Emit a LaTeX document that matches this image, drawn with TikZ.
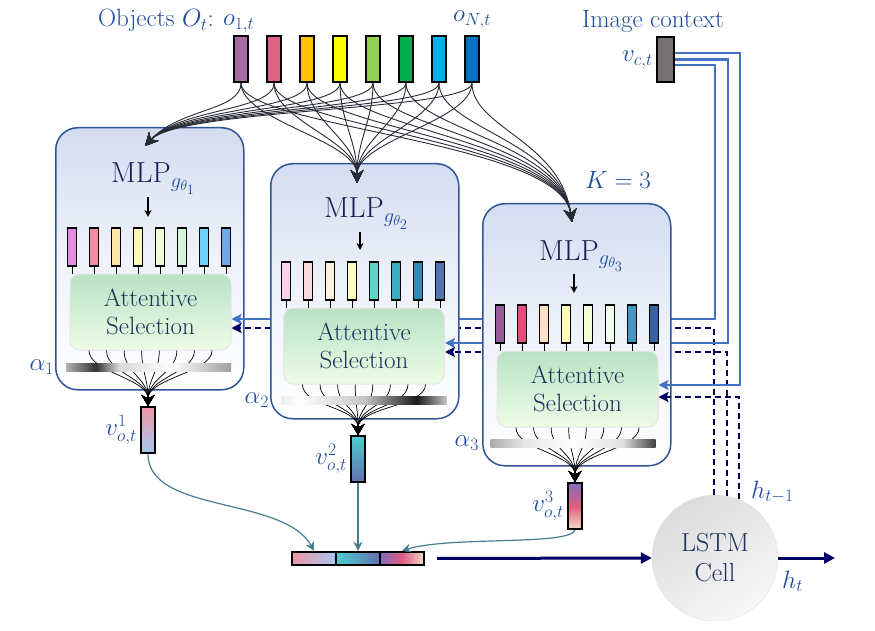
\documentclass[tikz,border=0pt]{standalone}
\usepackage{fix-cm}
\usetikzlibrary{arrows.meta,calc,positioning}

\definecolor{labblue}{RGB}{30,76,158}
\definecolor{mlptext}{RGB}{22,32,84}
\definecolor{atttext}{RGB}{28,48,92}
\definecolor{panline}{RGB}{47,85,151}
\definecolor{pantop}{RGB}{212,221,240}
\definecolor{panmid}{RGB}{238,242,250}
\definecolor{atttop}{RGB}{184,226,196}
\definecolor{attbot}{RGB}{238,252,230}
\definecolor{ctxblue}{RGB}{68,114,196}
\definecolor{hidnavy}{RGB}{0,0,100}
\definecolor{tealc}{RGB}{70,125,145}
\definecolor{curvec}{RGB}{40,42,52}
\definecolor{vcgray}{RGB}{118,113,113}
\definecolor{obj1}{RGB}{168,106,164}
\definecolor{obj2}{RGB}{224,98,130}
\definecolor{obj3}{RGB}{255,192,0}
\definecolor{obj4}{RGB}{255,255,0}
\definecolor{obj5}{RGB}{146,208,80}
\definecolor{obj6}{RGB}{0,176,80}
\definecolor{obj7}{RGB}{0,176,240}
\definecolor{obj8}{RGB}{0,112,192}
\definecolor{pA1}{RGB}{228,140,228}
\definecolor{pA2}{RGB}{244,140,168}
\definecolor{pA3}{RGB}{255,228,170}
\definecolor{pA4}{RGB}{250,250,180}
\definecolor{pA5}{RGB}{240,252,210}
\definecolor{pA6}{RGB}{210,245,220}
\definecolor{pA7}{RGB}{110,210,250}
\definecolor{pA8}{RGB}{110,170,235}
\definecolor{pB1}{RGB}{250,210,240}
\definecolor{pB2}{RGB}{252,215,220}
\definecolor{pB3}{RGB}{255,240,220}
\definecolor{pB4}{RGB}{255,255,190}
\definecolor{pB5}{RGB}{90,215,200}
\definecolor{pB6}{RGB}{60,175,195}
\definecolor{pB7}{RGB}{45,140,185}
\definecolor{pB8}{RGB}{85,115,175}
\definecolor{pC1}{RGB}{150,90,155}
\definecolor{pC2}{RGB}{225,80,125}
\definecolor{pC3}{RGB}{255,225,195}
\definecolor{pC4}{RGB}{255,255,185}
\definecolor{pC5}{RGB}{240,255,215}
\definecolor{pC6}{RGB}{240,255,235}
\definecolor{pC7}{RGB}{65,150,195}
\definecolor{pC8}{RGB}{55,100,160}
\definecolor{vpink}{RGB}{240,150,165}
\definecolor{vsky}{RGB}{165,200,240}
\definecolor{vturq}{RGB}{75,205,205}
\definecolor{vslate}{RGB}{100,112,175}
\definecolor{vpurp}{RGB}{128,110,185}
\definecolor{vrose}{RGB}{222,92,130}
\definecolor{vcream}{RGB}{240,218,195}

\pgfdeclarehorizontalshading{alphaA}{100bp}{color(0bp)=(gray!60); color(25bp)=(gray!60); color(34bp)=(black!80); color(41bp)=(gray!30); color(57bp)=(white); color(75bp)=(gray!75); color(100bp)=(gray!75)}
\pgfdeclarehorizontalshading{alphaB}{100bp}{color(0bp)=(gray!15); color(25bp)=(gray!15); color(30bp)=(white); color(50bp)=(gray!45); color(66bp)=(black!90); color(75bp)=(gray!45); color(100bp)=(gray!45)}
\pgfdeclarehorizontalshading{alphaC}{100bp}{color(0bp)=(gray!65); color(25bp)=(gray!65); color(35bp)=(gray!20); color(50bp)=(white); color(65bp)=(gray!25); color(75bp)=(black!75); color(100bp)=(black!75)}

\tikzset{
  lab/.style={text=labblue, font=\fontsize{25}{29}\selectfont, inner sep=1pt},
  objbar/.style={draw=black, line width=2pt, minimum width=14pt, minimum height=46pt, inner sep=0pt},
  featbar/.style={draw=black, line width=1.6pt, minimum width=9pt, minimum height=38pt, inner sep=0pt},
  vecbar/.style={draw=black, line width=2pt, minimum width=14pt, minimum height=46pt, inner sep=0pt},
  catbar/.style={draw=black, line width=2.4pt, minimum width=44pt, minimum height=13pt, inner sep=0pt},
  panel/.style={draw=panline, line width=1.5pt, rounded corners=22pt, top color=pantop, bottom color=white, middle color=panmid, minimum width=188pt, anchor=north west, inner sep=0pt},
  attbox/.style={draw=gray!20, line width=1pt, rounded corners=10pt, top color=atttop, bottom color=attbot, minimum width=161pt, minimum height=76pt, align=center, text=atttext, font=\fontsize{25}{28}\selectfont},
  mlptxt/.style={anchor=base west, text=mlptext, font=\fontsize{29}{32}\selectfont, inner sep=2pt},
  lstmcell/.style={circle, draw=gray!25, minimum size=126pt, inner sep=0pt, top color=gray!28, bottom color=gray!6, shading angle=35, align=center, text=atttext, font=\fontsize{26}{30}\selectfont},
  abar/.style={shade, minimum width=165pt, minimum height=8pt, inner sep=0pt},
  down/.style={-{Stealth[length=7pt,width=7pt]}, line width=1.3pt},
  fan/.style={line width=0.7pt, -{Stealth[length=11pt,width=13pt]}},
  feed/.style={curvec, line width=0.9pt, -{Stealth[length=13pt,width=13pt]}},
  ctx/.style={ctxblue, line width=2.4pt, -{Stealth[length=10pt,width=10pt,inset=2pt]}},
  hid/.style={hidnavy, line width=2.4pt, dash pattern=on 6pt off 4pt, -{Stealth[length=10pt,width=10pt,inset=2pt]}},
  merge/.style={tealc, line width=1.2pt, -{Stealth[length=9pt,width=9pt]}},
  flow/.style={hidnavy, line width=3pt, -{Triangle[length=11pt,width=11pt]}},
}

\begin{document}
\begin{tikzpicture}[x=1pt,y=-1pt]
  \useasboundingbox (0,0) rectangle (875,631);

  \node[lstmcell] (lstm) at (715,558) {LSTM\\Cell};
  \node[lab, anchor=base west] (hprev) at (750,498) {$h_{t-1}$};
  \node[lab, anchor=base west] (hcur) at (781,588) {$h_t$};

  \node[lab, anchor=base east] (objl) at (215,27) {Objects $O_t$:};
  \node[lab, anchor=base west] (o1l) at (222,26) {$o_{1,t}$};
  \node[lab, anchor=base west] (oNl) at (452,22) {$o_{N,t}$};
  \foreach \i in {1,...,8}
    \node[objbar, fill=obj\i] (o\i) at ({241+33*(\i-1)},59) {};

  \node[lab, anchor=base] (imgl) at (653,28) {Image context};
  \node[objbar, fill=vcgray, minimum width=17pt, minimum height=45pt] (vc) at (665.5,59.5) {};
  \node[lab, left=2pt of vc] (vcl) {$v_{c,t}$};
  \node[lab] (kval) at (618,180) {$K=3$};

  \node[catbar, left color=vpink, right color=vsky] (cat1) at (314,558.5) {};
  \node[catbar, left color=vturq, right color=vslate] (cat2) at (358,558.5) {};
  \node[catbar, left color=vpurp, right color=vcream, middle color=vrose] (cat3) at (402,558.5) {};

  \begin{scope}[shift={(55,127)}]
    \node[panel, minimum height=262pt] (pan1) at (0,0) {};
    \node[mlptxt] (mlp1) at (54,56) {MLP$_{\color{labblue}g_{\theta_1}}$};
    \foreach \i in {1,...,8}
      \node[featbar, fill=pA\i] (fa\i) at ({17+22*(\i-1)},120) {};
    \coordinate (in1) at (93,90);
    \draw[down] (mlp1.south -| in1) -- (in1);
    \node[attbox] (att1) at (95.5,185) {Attentive\\Selection};
    \foreach \i in {1,...,8}
      \draw[line width=0.8pt] (fa\i.south) -- (fa\i.south |- att1.north);
    \node[vecbar, top color=vpink, bottom color=vsky] (v1) at (93,303) {};
    \node[lab, left=2pt of v1] (lv1) {$v^1_{o,t}$};
    \coordinate (f1) at ([yshift=28pt]v1.north);
    \foreach \i in {0,...,7}
      \draw[fan] ($(att1.south west)!{0.12+0.76*\i/7}!(att1.south east)$) .. controls +(0,22) and (f1) .. (v1.north);
    \node[abar, shading=alphaA] (al1) at (93.5,240) {};
    \node[lab, anchor=east] (la1) at (0,240) {$\alpha_1$};
    \coordinate (tgt1) at (90,19);
  \end{scope}

  \coordinate (ca1) at (715,319);
  \coordinate (da1) at (714,328);
  \draw[ctx] ([yshift=-5.5pt]vc.east) -| (ca1) -- (ca1 -| att1.east);
  \draw[hid] (da1 |- lstm.91) -- (da1) -- (da1 -| att1.east);

  \begin{scope}[shift={(270,163)}]
    \node[panel, minimum height=255pt] (pan2) at (0,0) {};
    \node[mlptxt] (mlp2) at (52,55) {MLP$_{\color{labblue}g_{\theta_2}}$};
    \foreach \i in {1,...,8}
      \node[featbar, fill=pB\i] (fb\i) at ({16+22*(\i-1)},118) {};
    \coordinate (in2) at (90,87);
    \draw[down] (mlp2.south -| in2) -- (in2);
    \node[attbox] (att2) at (94,183) {Attentive\\Selection};
    \foreach \i in {1,...,8}
      \draw[line width=0.8pt] (fb\i.south) -- (fb\i.south |- att2.north);
    \node[vecbar, top color=vturq, bottom color=vslate] (v2) at (88,296) {};
    \node[lab, left=2pt of v2] (lv2) {$v^2_{o,t}$};
    \coordinate (f2) at ([yshift=28pt]v2.north);
    \foreach \i in {0,...,7}
      \draw[fan] ($(att2.south west)!{0.12+0.76*\i/7}!(att2.south east)$) .. controls +(0,22) and (f2) .. (v2.north);
    \node[abar, shading=alphaB] (al2) at (94,237) {};
    \node[lab, anchor=east] (la2) at (0,237) {$\alpha_2$};
    \coordinate (tgt2) at (87,20);
  \end{scope}

  \coordinate (ca2) at (728,343);
  \coordinate (da2) at (727,352);
  \draw[ctx] (vc.east) -| (ca2) -- (ca2 -| att2.east);
  \draw[hid] (da2 |- lstm.79) -- (da2) -- (da2 -| att2.east);

  \begin{scope}[shift={(482,203)}]
    \node[panel, minimum height=262pt] (pan3) at (0,0) {};
    \node[mlptxt] (mlp3) at (55,57) {MLP$_{\color{labblue}g_{\theta_3}}$};
    \foreach \i in {1,...,8}
      \node[featbar, fill=pC\i] (fc\i) at ({18+22*(\i-1)},121) {};
    \coordinate (in3) at (92,90);
    \draw[down] (mlp3.south -| in3) -- (in3);
    \node[attbox] (att3) at (95.5,186) {Attentive\\Selection};
    \foreach \i in {1,...,8}
      \draw[line width=0.8pt] (fc\i.south) -- (fc\i.south |- att3.north);
    \node[vecbar, top color=vpurp, bottom color=vcream, middle color=vrose] (v3) at (93,303) {};
    \node[lab, left=2pt of v3] (lv3) {$v^3_{o,t}$};
    \coordinate (f3) at ([yshift=28pt]v3.north);
    \foreach \i in {0,...,7}
      \draw[fan] ($(att3.south west)!{0.12+0.76*\i/7}!(att3.south east)$) .. controls +(0,22) and (f3) .. (v3.north);
    \node[abar, shading=alphaC] (al3) at (91,240) {};
    \node[lab, anchor=east] (la3) at (-2,240) {$\alpha_3$};
    \coordinate (tgt3) at (90,19);
  \end{scope}

  \coordinate (ca3) at (740,385);
  \coordinate (da3) at (739,397);
  \draw[ctx] ([yshift=6.5pt]vc.east) -| (ca3) -- (ca3 -| att3.east);
  \draw[hid] (da3 |- lstm.68) -- (da3) -- (da3 -| att3.east);

  \draw[merge] (v1.south) .. controls +(0,60) and +(-30,-55) .. (cat1.north);
  \draw[merge] (v2.south) -- (cat2.north);
  \draw[merge] (v3.south) .. controls +(-5,16) and +(48,-15) .. (cat3.north);
  \draw[flow, shorten <=12pt] (cat3.east) -- (lstm.west);
  \coordinate (hout) at (835,558);
  \draw[flow] (lstm.east) -- (hout);

  \coordinate (k1) at (180,108);
  \coordinate (k2) at (357,140);
  \coordinate (k3) at (560,140);
  \foreach \i in {1,...,8} {
    \draw[feed] (o\i.south) .. controls +(0,28) and (k1) .. (tgt1);
    \draw[feed] (o\i.south) .. controls +(0,38) and (k2) .. (tgt2);
    \draw[feed] (o\i.south) .. controls +(0,45) and (k3) .. (tgt3);
  }
\end{tikzpicture}
\end{document}
